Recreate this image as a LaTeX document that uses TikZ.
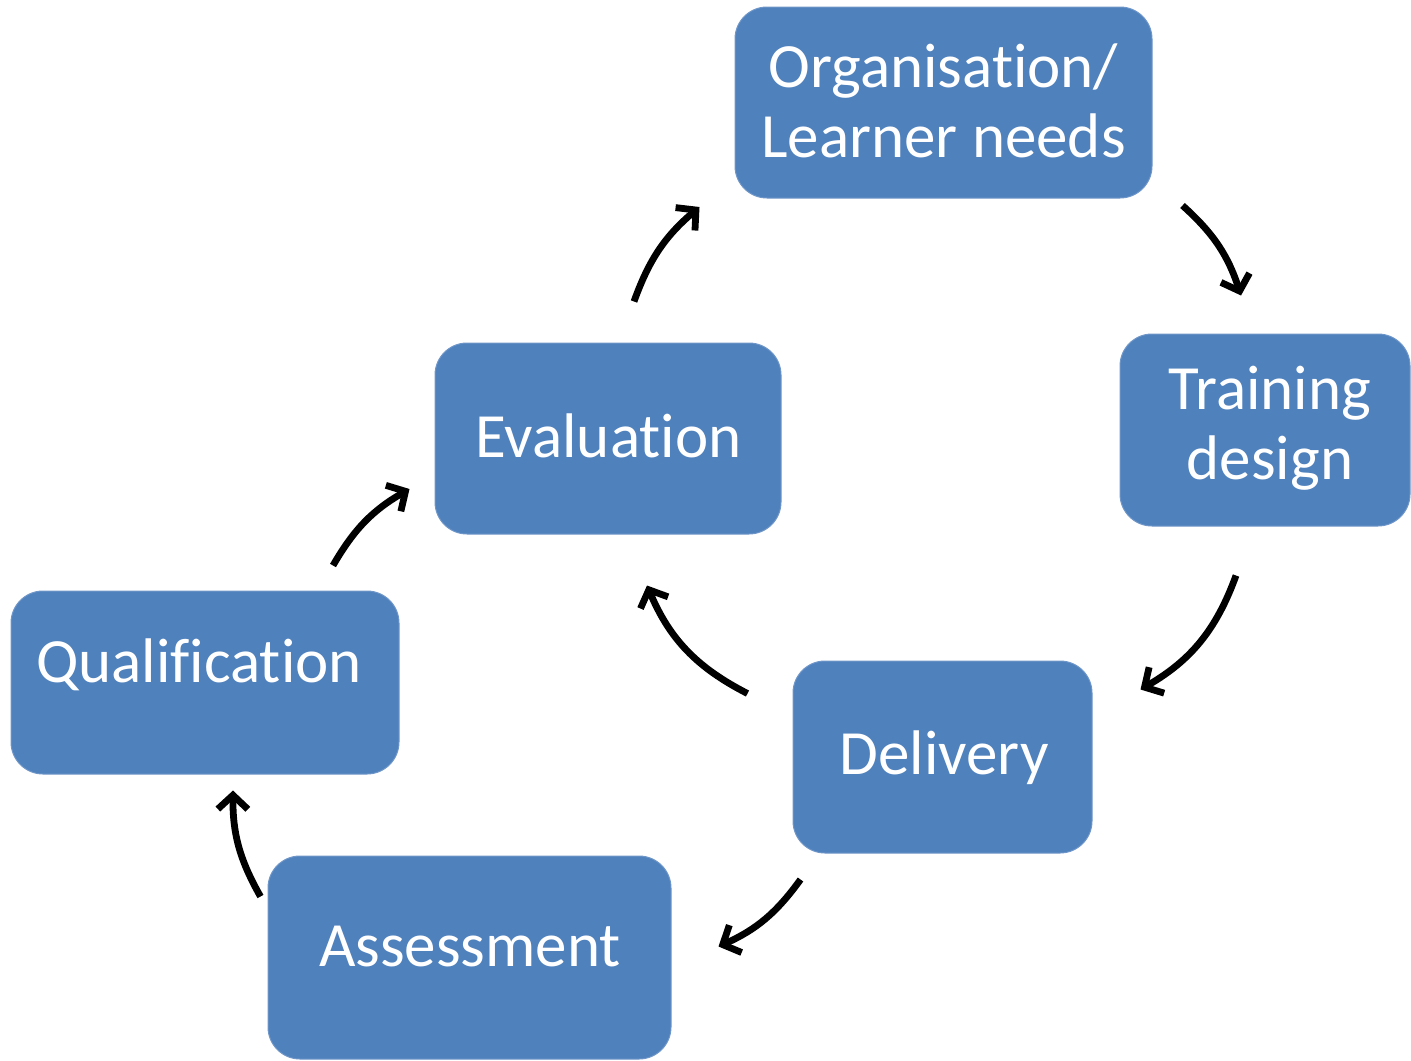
\documentclass[tikz,border=0pt]{standalone}
\usepackage{fontspec}
\setmainfont{Carlito}[Ligatures={NoCommon,NoRequired,NoContextual}]
\usetikzlibrary{arrows.meta,calc}
\definecolor{boxblue}{HTML}{4F81BD}
\definecolor{boxedge}{HTML}{6F96C8}
\newcommand\brk{\kern0pt{}}
\tikzset{
  box/.style={rectangle, rounded corners=16pt, fill=boxblue, draw=boxedge, line width=0.5pt, inner sep=0pt},
  lbl/.style={text=white, font=\fontsize{31.5}{35}\selectfont, align=center, inner sep=0pt},
  arr/.style={-{Straight Barb[length=7pt,width=15pt,line width=3.4pt,sharp]}, line width=3.4pt, black}
}
\begin{document}
\begin{tikzpicture}[x=0.5pt,y=-0.5pt]
\useasboundingbox (0,0) rectangle (1411,1060);
% boxes
\node[box, minimum width=208.5pt, minimum height=95.5pt] (org) at (943.5,102.5) {};
\node[box, minimum width=145pt, minimum height=96pt] (train) at (1265,430) {};
\node[box, minimum width=149.5pt, minimum height=96pt] (deliv) at (942.5,757) {};
\node[box, minimum width=201.5pt, minimum height=101.5pt] (assess) at (469.5,957.5) {};
\node[box, minimum width=194pt, minimum height=91.5pt] (qual) at (205,682.5) {};
\node[box, minimum width=173pt, minimum height=95.5pt] (eval) at (608,438.5) {};
% labels
\node[lbl] (orgtxt) at (943.5,101) {Organisat\brk ion/\\Learner needs};
\node[lbl] (traintxt) at (1270,428) {Training\\design};
\node[lbl] (delivtxt) at (944,758) {Delivery};
\node[lbl] (assesstxt) at (470,947) {Assessment};
\node[lbl] (qualtxt) at (199,665) {Qualif\brk icat\brk ion};
\node[lbl] (evaltxt) at (608.5,436) {Evaluat\brk ion};
% arrows
\draw[arr] ([shift={(30,7)}]org.south east) to[bend left=15] ([shift={(-24,-38)}]train.north);
\draw[arr] ([shift={(-29,49)}]train.south) to[bend left=20] ([shift={(48,29)}]deliv.north east);
\draw[arr] ([shift={(-45,33)}]deliv.north west) to[bend left=20] ([shift={(39,51)}]eval.south);
\draw[arr] ([shift={(8,26)}]deliv.south west) to[bend left=15] ([shift={(47,-11)}]assess.east);
\draw[arr] ([shift={(-7,41)}]assess.north west) to[bend left=15] ([shift={(28,16)}]qual.south);
\draw[arr] ([shift={(128,-25)}]qual.north) to[bend left=15] ([shift={(-25,50.5)}]eval.west);
\draw[arr] ([shift={(26,-41)}]eval.north) to[bend left=15] ([shift={(-35,104.5)}]org.west);
\end{tikzpicture}
\end{document}
